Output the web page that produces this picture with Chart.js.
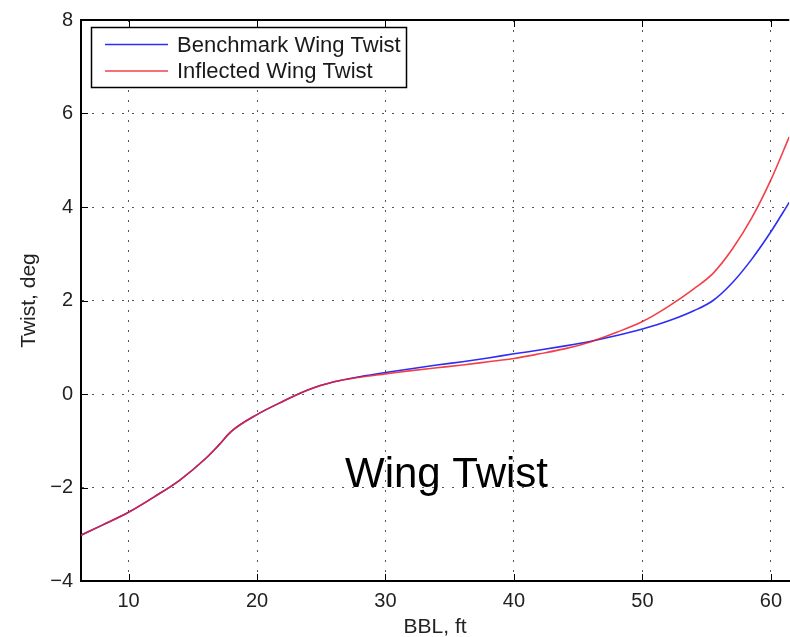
<!DOCTYPE html>
<html lang="en">
  <head>
    <meta charset="UTF-8" />
    <title>Wing Twist</title>
    <script src="https://cdn.jsdelivr.net/npm/chart.js"></script>
    <style>
      * {
        margin: 0;
        padding: 0;
        box-sizing: border-box;
      }

      body {
        background: #fff;
        width: 790px;
        height: 637px;
        overflow: hidden;
      }

      .wrap {
        position: relative;
        width: 790px;
        height: 637px;
      }
    </style>
  </head>
  <body>
    <div class="wrap"><canvas id="twistChart"></canvas></div>

    <script>
      // BBL stations (ft) and twist (deg)
      const bblFt = [6.3, 8, 10, 12, 14, 16, 17, 18, 20, 22, 24, 26, 28, 30, 32, 34, 36, 38, 40, 42, 44, 46, 48, 50, 52, 54, 55.5, 57, 58.5, 60, 61.43];
      const benchmarkTwist = [-3.02, -2.8, -2.53, -2.2, -1.84, -1.38, -1.1, -0.8, -0.44, -0.16, 0.09, 0.26, 0.37, 0.46, 0.54, 0.62, 0.69, 0.77, 0.86, 0.94, 1.03, 1.13, 1.25, 1.39, 1.56, 1.78, 2.0, 2.38, 2.88, 3.47, 4.1];
      const inflectedTwist = [-3.02, -2.8, -2.53, -2.2, -1.84, -1.38, -1.1, -0.8, -0.44, -0.16, 0.09, 0.26, 0.36, 0.43, 0.5, 0.56, 0.62, 0.69, 0.76, 0.86, 0.97, 1.12, 1.32, 1.55, 1.87, 2.25, 2.58, 3.1, 3.76, 4.58, 5.5];
      const seriesLabels = ["Benchmark Wing Twist", "Inflected Wing Twist"];
      const xTicks = [10, 20, 30, 40, 50, 60];
      const yTicks = [-4, -2, 0, 2, 4, 6, 8];

      const FONT = 'Arial, "Liberation Sans", Helvetica, sans-serif';

      const toPoints = (ys) => ys.map((y, i) => ({ x: bblFt[i], y: y }));
      const minusSign = (v) => String(v).replace("-", "\u2212");

      // top border, inward ticks, legend box and the caption
      const matlabFrame = {
        id: "matlabFrame",
        afterDraw(chart) {
          const { ctx, chartArea: a, scales } = chart;
          ctx.save();

          ctx.strokeStyle = "#000";
          ctx.lineWidth = 2;
          ctx.beginPath();
          ctx.moveTo(a.left, a.top);
          ctx.lineTo(a.right, a.top);
          ctx.stroke();

          ctx.lineWidth = 1;
          ctx.beginPath();
          xTicks.forEach((v) => {
            const px = Math.round(scales.x.getPixelForValue(v)) + 0.5;
            ctx.moveTo(px, a.bottom);
            ctx.lineTo(px, a.bottom - 7);
            ctx.moveTo(px, a.top);
            ctx.lineTo(px, a.top + 7);
          });
          yTicks.forEach((v) => {
            const py = Math.round(scales.y.getPixelForValue(v)) + 0.5;
            ctx.moveTo(a.left, py);
            ctx.lineTo(a.left + 7, py);
          });
          ctx.stroke();

          // legend
          ctx.fillStyle = "#fff";
          ctx.fillRect(91, 27, 316, 61);
          ctx.strokeStyle = "#000";
          ctx.lineWidth = 1.5;
          ctx.strokeRect(91.5, 27.5, 315, 60);
          chart.data.datasets.forEach((ds, i) => {
            const y = 44.5 + i * 26.5;
            ctx.strokeStyle = ds.borderColor;
            ctx.lineWidth = 1.5;
            ctx.beginPath();
            ctx.moveTo(105, y);
            ctx.lineTo(168, y);
            ctx.stroke();
            ctx.fillStyle = "#1a1a1a";
            ctx.font = `22px ${FONT}`;
            ctx.textBaseline = "middle";
            ctx.fillText(ds.label, 177, y + 1);
          });

          ctx.fillStyle = "#000";
          ctx.font = `42px ${FONT}`;
          ctx.textBaseline = "alphabetic";
          ctx.fillText("Wing Twist", 345, 487);

          ctx.restore();
        },
      };

      const ctx = document.getElementById("twistChart").getContext("2d");
      const twistChart = new Chart(ctx, {
        type: "line",
        data: {
          datasets: [
            {
              label: seriesLabels[0],
              data: toPoints(benchmarkTwist),
              borderColor: "rgb(45, 45, 245)",
              borderWidth: 1.6,
              pointRadius: 0,
              cubicInterpolationMode: "monotone",
              order: 1,
            },
            {
              label: seriesLabels[1],
              data: toPoints(inflectedTwist),
              borderColor: "rgba(240, 30, 40, 0.85)",
              borderWidth: 1.6,
              pointRadius: 0,
              cubicInterpolationMode: "monotone",
              order: 0,
            },
          ],
        },
        options: {
          responsive: true,
          maintainAspectRatio: false,
          animation: false,
          layout: { padding: { top: 16, right: 0, bottom: 0, left: 0 } },
          plugins: {
            legend: { display: false },
            tooltip: { enabled: false },
          },
          scales: {
            x: {
              type: "linear",
              min: 6.3,
              max: 61.43,
              afterBuildTicks: (scale) => {
                scale.ticks = xTicks.map((v) => ({ value: v }));
              },
              afterFit: (scale) => {
                scale.height = 56;
              },
              ticks: {
                padding: 8,
                color: "#222",
                font: { family: FONT, size: 20 },
                callback: (v) => minusSign(v),
              },
              grid: {
                drawTicks: false,
                color: "#555",
                lineWidth: 1,
              },
              border: { display: true, color: "#000", width: 2, dash: [2, 8] },
              title: {
                display: true,
                text: "BBL, ft",
                color: "#222",
                font: { family: FONT, size: 21, lineHeight: 0.9 },
                padding: { top: 0, bottom: 0 },
              },
            },
            y: {
              min: -4,
              max: 8,
              afterBuildTicks: (scale) => {
                scale.ticks = yTicks.map((v) => ({ value: v }));
              },
              afterFit: (scale) => {
                scale.width = 81;
              },
              ticks: {
                padding: 8,
                color: "#222",
                font: { family: FONT, size: 20 },
                callback: (v) => minusSign(v),
              },
              grid: {
                drawTicks: false,
                color: "#555",
                lineWidth: 1,
              },
              border: { display: true, color: "#000", width: 2, dash: [2, 8] },
              title: {
                display: true,
                text: "Twist, deg",
                color: "#222",
                font: { family: FONT, size: 21, lineHeight: 0.9 },
                padding: { top: 20, bottom: 0 },
              },
            },
          },
        },
        plugins: [matlabFrame],
      });
    </script>
  </body>
</html>
